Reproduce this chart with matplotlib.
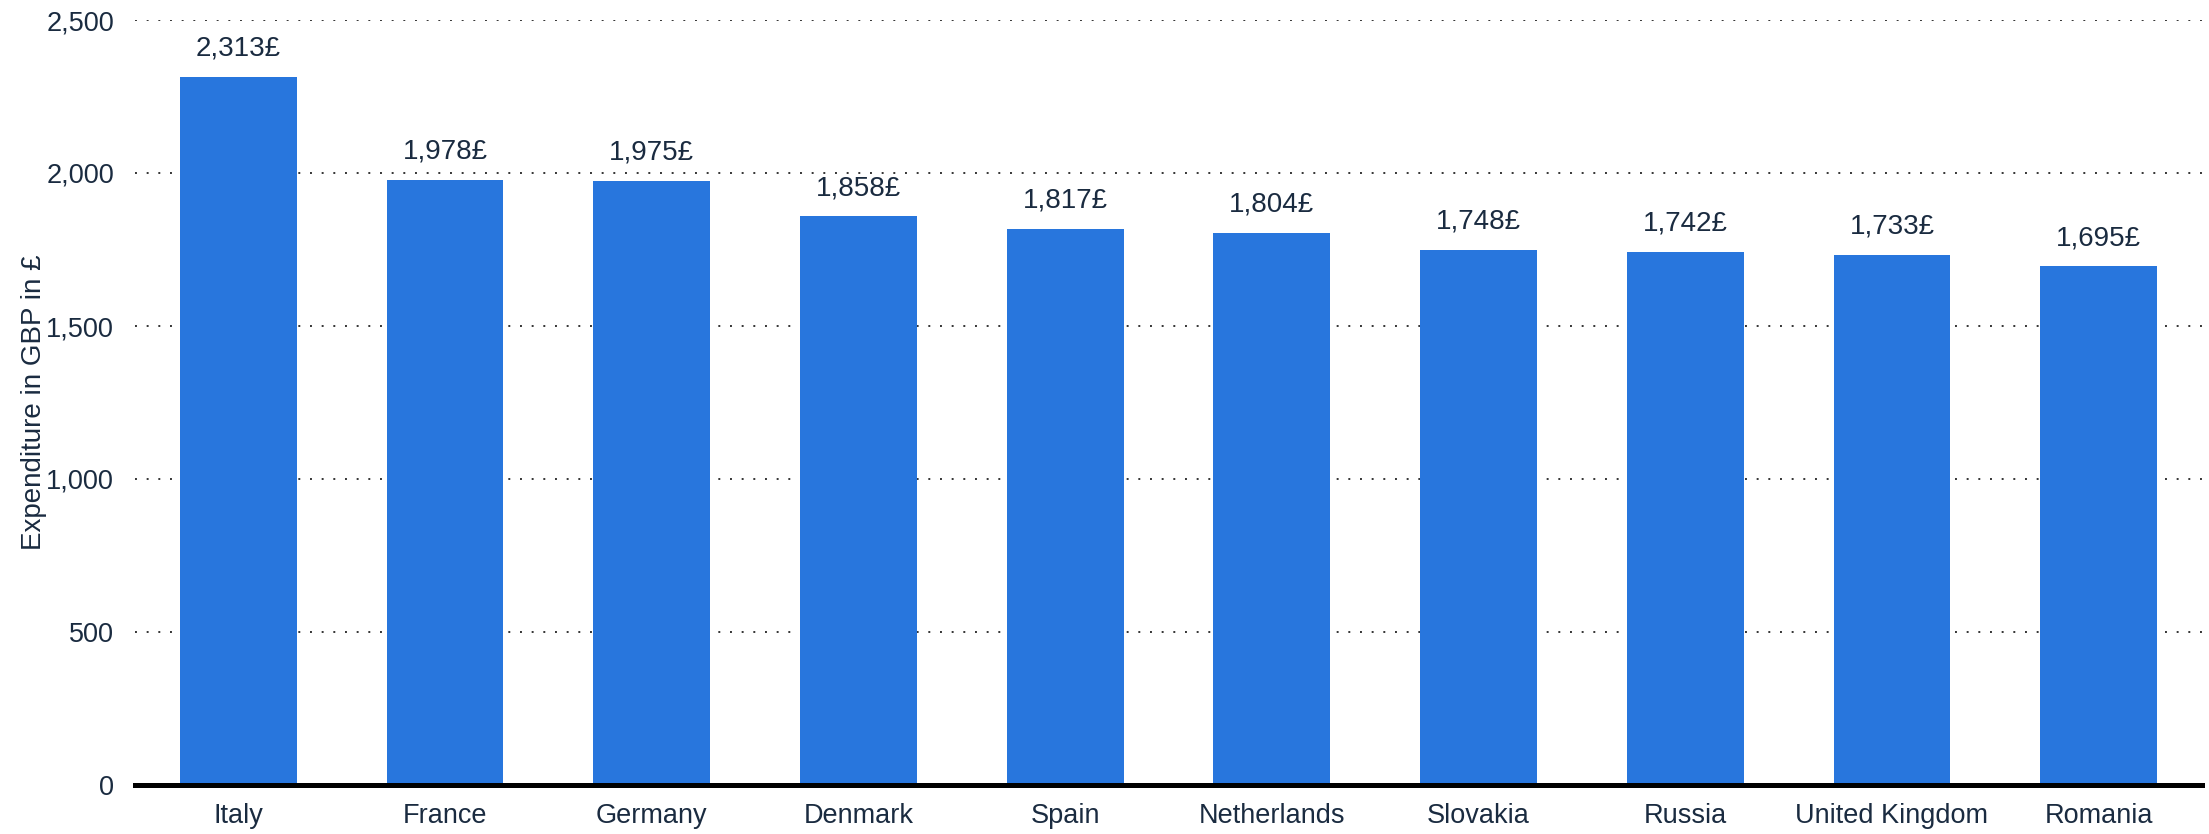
import numpy as np
import matplotlib.pyplot as plt
from matplotlib.ticker import FuncFormatter, MultipleLocator

countries = ['Italy', 'France', 'Germany', 'Denmark', 'Spain', 'Netherlands',
             'Slovakia', 'Russia', 'United Kingdom', 'Romania']
spend = [2313, 1978, 1975, 1858, 1817, 1804, 1748, 1742, 1733, 1695]

plt.rcParams['font.family'] = ['Liberation Sans', 'DejaVu Sans']
txt = '#1a2b40'

fig = plt.figure(figsize=(22.09, 8.34), dpi=100)
ax = fig.add_axes([135/2209, 1-785/834, (2202-135)/2209, (785-20)/834])

x = np.arange(len(countries))
ax.bar(x, spend, width=0.565, color='#2876dd', zorder=2)
for xi, v in zip(x, spend):
    ax.annotate(f'{v:,}£', (xi, v), xytext=(0, 11), textcoords='offset points',
                ha='center', va='bottom', fontsize=20, color=txt)

ax.set_xlim(-0.5, len(countries) - 0.5)
ax.set_ylim(0, 2500)
ax.yaxis.set_major_locator(MultipleLocator(500))
ax.yaxis.set_major_formatter(FuncFormatter(lambda v, p: f'{int(v):,}'))
ax.set_xticks(x)
ax.set_xticklabels(countries)
ax.tick_params(axis='both', length=0, labelsize=19.5, colors=txt)
ax.tick_params(axis='y', pad=15)
ax.tick_params(axis='x', pad=13)

ax.grid(axis='y', linestyle=(0, (1, 5)), color='#333333', linewidth=1.4, zorder=0)
for s in ['top', 'right', 'left']:
    ax.spines[s].set_visible(False)
ax.spines['bottom'].set_linewidth(3.6)
ax.spines['bottom'].set_color('black')
ax.spines['bottom'].set_zorder(3)

ax.set_ylabel('Expenditure in GBP in £', fontsize=20, color=txt)
ax.yaxis.set_label_coords(-0.0426, 0.5)

plt.savefig('out.png', dpi=100)
